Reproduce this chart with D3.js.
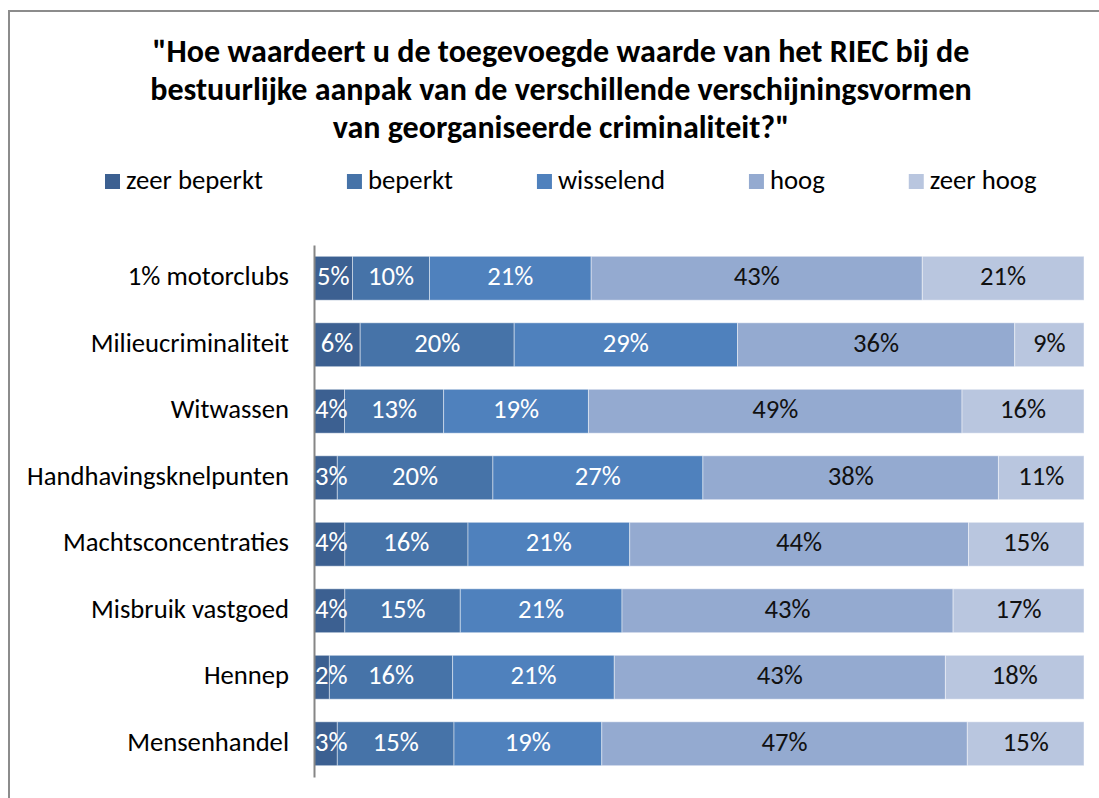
<!DOCTYPE html>
<html>
<head>
<meta charset="utf-8">
<script src="https://cdn.jsdelivr.net/npm/d3@7"></script>
<style>
  html, body { margin: 0; padding: 0; background: #fff; }
  svg { display: block; font-family: Carlito, "Open Sans", "Noto Sans", sans-serif; }
</style>
</head>
<body>
<svg id="chart" width="1099" height="798"></svg>
<script>
// Survey categories (top to bottom)
const categories = [
  "1% motorclubs",
  "Milieucriminaliteit",
  "Witwassen",
  "Handhavingsknelpunten",
  "Machtsconcentraties",
  "Misbruik vastgoed",
  "Hennep",
  "Mensenhandel"
];

// Answer scale (series)
const seriesNames = ["zeer beperkt", "beperkt", "wisselend", "hoog", "zeer hoog"];

// Share of respondents per answer, in percent, one array per series
const zeerBeperkt = [5, 6, 4, 3, 4, 4, 2, 3];
const beperkt     = [10, 20, 13, 20, 16, 15, 16, 15];
const wisselend   = [21, 29, 19, 27, 21, 21, 21, 19];
const hoog        = [43, 36, 49, 38, 44, 43, 43, 47];
const zeerHoog    = [21, 9, 16, 11, 15, 17, 18, 15];

const seriesValues = [zeerBeperkt, beperkt, wisselend, hoog, zeerHoog];

const titleLines = [
  "\"Hoe waardeert u de toegevoegde waarde van het RIEC bij de",
  "bestuurlijke aanpak van de verschillende verschijningsvormen",
  "van georganiseerde criminaliteit?\""
];

const colors = ["#3c6091", "#4673a8", "#4f81bd", "#94aad0", "#b9c6df"];
const labelColors = ["#ffffff", "#ffffff", "#ffffff", "#111111", "#111111"];

const svg = d3.select("#chart");

// Font size that makes a string span the given width
function fitSize(str, weight, width) {
  const t = svg.append("text")
    .attr("font-size", 100)
    .attr("font-weight", weight)
    .text(str);
  const w = t.node().getComputedTextLength();
  t.remove();
  return 100 * width / w;
}

const titleSize = fitSize(titleLines[0], "bold", 817);
const catSize = fitSize("Handhavingsknelpunten", "normal", 262);
const legendSize = fitSize("zeer beperkt", "normal", 137);
const valueSize = catSize;

// Outer chart frame (runs off the right and bottom edges)
svg.append("rect")
  .attr("x", 9).attr("y", 11)
  .attr("width", 1120).attr("height", 820)
  .attr("fill", "#fff")
  .attr("stroke", "#8c8c8c")
  .attr("stroke-width", 2);

// Title
svg.append("g")
  .selectAll("text")
  .data(titleLines)
  .join("text")
  .attr("x", 561)
  .attr("y", (d, i) => 62 + i * 38)
  .attr("text-anchor", "middle")
  .attr("font-size", titleSize)
  .attr("font-weight", "bold")
  .attr("fill", "#000")
  .text(d => d);

// Legend
const legend = svg.append("g").attr("transform", "translate(105,0)");
let lx = 0;
seriesNames.forEach((name, i) => {
  const item = legend.append("g").attr("transform", `translate(${lx},0)`);
  item.append("rect")
    .attr("x", 0).attr("y", 174)
    .attr("width", 15).attr("height", 15)
    .attr("fill", colors[i]);
  const t = item.append("text")
    .attr("x", 21).attr("y", 189)
    .attr("font-size", legendSize)
    .attr("fill", "#000")
    .text(name);
  lx += 21 + t.node().getComputedTextLength() + 84;
});

// Plot area
const plot = { left: 314, right: 1084, top: 245, bottom: 777 };

const rows = categories.map((c, i) => {
  const r = { category: c };
  seriesNames.forEach((s, j) => { r[s] = seriesValues[j][i]; });
  return r;
});

const stacked = d3.stack()
  .keys(seriesNames)
  .offset(d3.stackOffsetExpand)(rows);

const x = d3.scaleLinear().domain([0, 1]).range([plot.left, plot.right]);
const y = d3.scaleBand()
  .domain(categories)
  .range([plot.top, plot.bottom])
  .paddingInner(0.34)
  .paddingOuter(0.17);

svg.append("defs").append("clipPath").attr("id", "plotClip")
  .append("rect")
  .attr("x", plot.left).attr("y", plot.top)
  .attr("width", plot.right - plot.left + 2)
  .attr("height", plot.bottom - plot.top);

const plotG = svg.append("g").attr("clip-path", "url(#plotClip)");

// Stacked segments
plotG.append("g")
  .selectAll("g")
  .data(stacked)
  .join("g")
  .selectAll("rect")
  .data((d, i) => d.map(p => ({ p, i })))
  .join("rect")
  .attr("x", d => x(d.p[0]))
  .attr("y", d => y(d.p.data.category))
  .attr("width", d => x(d.p[1]) - x(d.p[0]))
  .attr("height", y.bandwidth())
  .attr("fill", d => colors[d.i])
  .attr("stroke", "rgba(255,255,255,0.45)")
  .attr("stroke-width", 1);

// Value labels on top of all segments, centred but kept inside the left edge
plotG.append("g")
  .selectAll("g")
  .data(stacked)
  .join("g")
  .selectAll("text")
  .data((d, i) => d.map(p => ({ p, i, key: d.key })))
  .join("text")
  .attr("y", d => y(d.p.data.category) + y.bandwidth() / 2 + 7)
  .attr("text-anchor", "middle")
  .attr("font-size", valueSize)
  .attr("fill", d => labelColors[d.i])
  .text(d => d.p.data[d.key] + "%")
  .attr("x", function (d) {
    const c = (x(d.p[0]) + x(d.p[1])) / 2;
    const half = this.getComputedTextLength() / 2;
    return Math.max(c, plot.left + 1 + half);
  });

// Category axis
const yAxis = svg.append("g")
  .attr("transform", `translate(${plot.left},0)`)
  .call(d3.axisLeft(y).tickSize(0).tickPadding(25));
yAxis.select(".domain")
  .attr("stroke", "#868686")
  .attr("stroke-width", 2);
yAxis.selectAll("text")
  .attr("font-size", catSize)
  .attr("font-family", "Carlito, 'Open Sans', 'Noto Sans', sans-serif")
  .attr("dy", null)
  .attr("y", 7)
  .attr("fill", "#000");
</script>
</body>
</html>
